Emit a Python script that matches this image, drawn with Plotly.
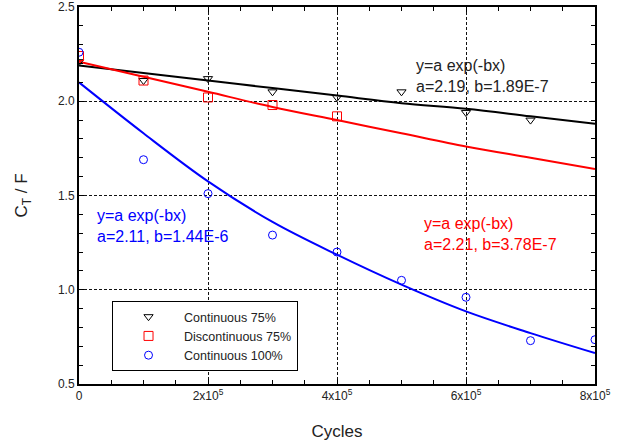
import plotly.graph_objects as go

# measured points
cycles = [0, 1e5, 2e5, 3e5, 4e5, 5e5, 6e5, 7e5, 8e5]
cont75_x = [0, 1e5, 2e5, 3e5, 4e5, 5e5, 6e5, 7e5]
cont75_y = [2.21, 2.11, 2.12, 2.05, 2.02, 2.05, 1.94, 1.90]
disc75_x = [0, 1e5, 2e5, 3e5, 4e5]
disc75_y = [2.24, 2.11, 2.02, 1.98, 1.92]
cont100_x = [0, 1e5, 2e5, 3e5, 4e5, 5e5, 6e5, 7e5, 8e5]
cont100_y = [2.26, 1.69, 1.51, 1.29, 1.20, 1.05, 0.96, 0.73, 0.735]

# fitted curves
fit_black = [2.19, 2.15, 2.11, 2.07, 2.03, 1.99, 1.96, 1.92, 1.88]
fit_red = [2.21, 2.13, 2.05, 1.97, 1.90, 1.83, 1.76, 1.70, 1.64]
fit_blue = [2.10, 1.83, 1.575, 1.36, 1.186, 1.027, 0.885, 0.77, 0.664]

x_tickvals = [0, 2e5, 4e5, 6e5, 8e5]
x_ticktext = ["0", "2x10<sup>5</sup>", "4x10<sup>5</sup>", "6x10<sup>5</sup>", "8x10<sup>5</sup>"]
y_tickvals = [0.5, 1.0, 1.5, 2.0, 2.5]

FONT = "Liberation Sans, Arial, sans-serif"

fig = go.Figure()
for fy, col in [(fit_black, "black"), (fit_red, "red"), (fit_blue, "blue")]:
    fig.add_trace(go.Scatter(x=cycles, y=fy, mode="lines", line=dict(color=col, width=2, shape="spline"),
                             showlegend=False, hoverinfo="skip"))

fig.add_trace(go.Scatter(x=cont75_x, y=cont75_y, mode="markers", name="Continuous 75%",
                         marker=dict(symbol="triangle-down-open", size=8, color="black", line=dict(width=1))))
fig.add_trace(go.Scatter(x=disc75_x, y=disc75_y, mode="markers", name="Discontinuous 75%",
                         marker=dict(symbol="square-open", size=9, color="red", line=dict(width=1))))
fig.add_trace(go.Scatter(x=cont100_x, y=cont100_y, mode="markers", name="Continuous 100%",
                         marker=dict(symbol="circle-open", size=8, color="blue", line=dict(width=1))))

anns = [
    (5.21e5, 2.133, "y=a exp(-bx)<br>a=2.19, b=1.89E-7", "#222"),
    (5.33e5, 1.295, "y=a exp(-bx)<br>a=2.21, b=3.78E-7", "red"),
    (0.26e5, 1.337, "y=a exp(-bx)<br>a=2.11, b=1.44E-6", "blue"),
]
for ax_, ay_, t, c in anns:
    fig.add_annotation(x=ax_, y=ay_, text=t, showarrow=False, xanchor="left", yanchor="middle",
                       align="left", xshift=-1, font=dict(family=FONT, size=16, color=c))

axis_common = dict(showline=True, linecolor="black", linewidth=2, mirror="ticks",
                   ticks="inside", ticklen=5, tickcolor="black", automargin=False,
                   showgrid=True, gridcolor="#111", griddash="3px,2px", gridwidth=1,
                   zeroline=False, tickfont=dict(family=FONT, size=12, color="#222"))

fig.update_xaxes(range=[0, 8e5], tickvals=x_tickvals, ticktext=x_ticktext,
                 minor=dict(dtick=5e4, ticks="inside", ticklen=4, tickcolor="black", showgrid=False),
                 title=dict(text="Cycles", font=dict(family=FONT, size=17, color="#222"), standoff=23),
                 **axis_common)
fig.update_yaxes(range=[0.5, 2.5], tickvals=y_tickvals, tickformat=".1f",
                 minor=dict(dtick=0.1, ticks="inside", ticklen=4, tickcolor="black", showgrid=False),
                 title=dict(text="C<sub>T</sub> / F", font=dict(family=FONT, size=17, color="#222"), standoff=26),
                 **axis_common)

fig.update_layout(
    width=620, height=446,
    margin=dict(l=79, r=25, t=7, b=62),
    plot_bgcolor="white", paper_bgcolor="white",
    legend=dict(x=0.064, y=0.22, xanchor="left", yanchor="top", bordercolor="black", borderwidth=1,
                bgcolor="white", font=dict(family=FONT, size=12.5, color="#222"),
                itemwidth=61, tracegroupgap=0),
)
fig.write_html("out.html", config={"displayModeBar": False},
               post_script="document.body.style.margin='0';")
